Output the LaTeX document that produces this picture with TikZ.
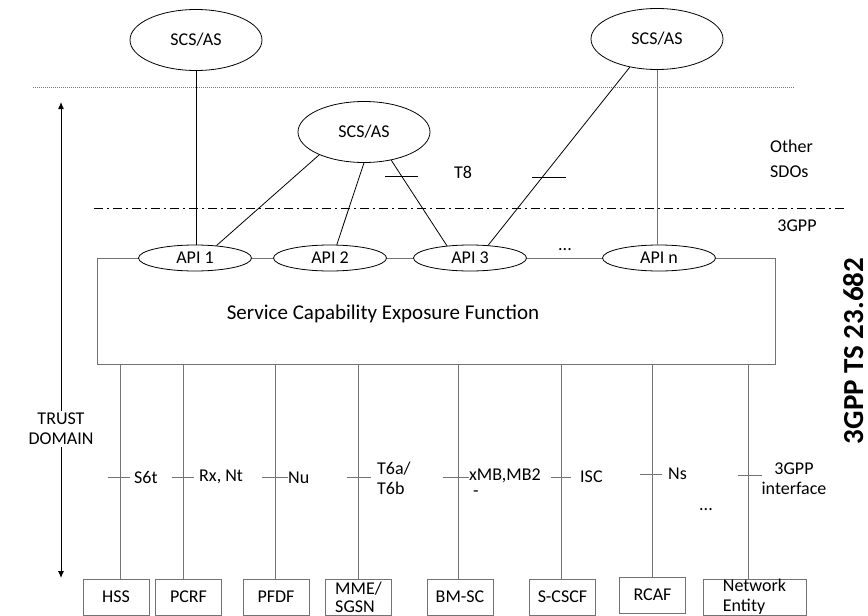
\documentclass[tikz,border=0pt]{standalone}
\usepackage{fontspec}
\setmainfont{Carlito}
\usetikzlibrary{shapes.geometric,arrows.meta}
\definecolor{lg}{gray}{0.45}
\tikzset{
  txt/.style={font=\fontsize{18}{20}\selectfont, inner sep=0pt},
  scs/.style={ellipse, draw, line width=0.8pt, minimum width=132pt, minimum height=61pt, inner sep=0pt, font=\fontsize{18}{20}\selectfont, fill=white},
  api/.style={ellipse, draw, line width=0.8pt, minimum width=113pt, minimum height=26pt, inner sep=0pt, font=\fontsize{18}{20}\selectfont, fill=white},
  nebox/.style={rectangle, draw=lg, line width=0.9pt, minimum width=66pt, minimum height=36pt, inner sep=0pt, font=\fontsize{18}{20}\selectfont, align=left},
  conn/.style={line width=0.8pt},
  gconn/.style={draw=lg, line width=1pt},
  tick/.style={line width=0.8pt},
}
\begin{document}
\begin{tikzpicture}[x=1pt,y=-1pt]
\useasboundingbox (0,0) rectangle (868,616);

% separator lines
\coordinate (dl1) at (33,87);
\coordinate (dl2) at (795,87);
\draw[lg, line width=1pt, dash pattern=on 1pt off 1pt] (dl1) -- (dl2);
\coordinate (dd1) at (94,208);
\coordinate (dd2) at (846,208);
\draw[line width=0.7pt, dash pattern=on 9pt off 4pt on 2pt off 4pt] (dd1) -- (dd2);

% SCEF box
\node[rectangle, draw=lg, line width=1pt, minimum width=678pt, minimum height=106pt, inner sep=0pt] (scef) at (436,311) {};
\node[txt, font=\fontsize{21}{24}\selectfont] (scefl) at (383,314) {Service Capability Exposure Function};

% API ellipses
\node[api] (api1) at (195,258) {API 1};
\node[api] (api2) at (330,258) {API 2};
\node[api] (api3) at (470,258) {API 3};
\node[api] (apin) at (659,258) {API n};
\node[txt] (adots) at (565,250) {...};

% SCS/AS
\node[scs] (sa1) at (196,40) {SCS/AS};
\node[scs] (sa2) at (364,132) {SCS/AS};
\node[scs] (sa3) at (657,39) {SCS/AS};

\draw[conn] (sa1.south) -- (sa1.south |- api1.north);
\draw[conn] (sa2.207) -- (api1.30);
\draw[conn] (sa2.south) -- (api2.63);
\draw[conn] (sa2.314) -- (api3.152);
\draw[conn] (sa3.226) -- (api3.35);
\draw[gconn] (sa3.south) -- (sa3.south |- apin.north);

% T8 ticks
\coordinate (t8a) at (385,176);
\coordinate (t8b) at (418,176);
\draw[tick] (t8a) -- (t8b);
\coordinate (t8c) at (532,177);
\coordinate (t8d) at (566,177);
\draw[tick] (t8c) -- (t8d);
\node[txt] (t8) at (463,172) {T8};

\node[txt, align=left, anchor=west, font=\fontsize{18}{25}\selectfont] (sdo) at (770,159) {Other\\SDOs};
\node[txt] (g3) at (797,226) {3GPP};

% title
\node[txt, rotate=90, anchor=base, font=\fontsize{29}{30}\selectfont\bfseries] (title) at (863,351) {3GPP TS 23.682};

% trust domain arrow
\node[txt, align=center, fill=white, inner sep=2pt] (trust) at (61,429) {TRUST\\DOMAIN};
\coordinate (tr1) at (61,102);
\coordinate (tr2) at (61,578);
\draw[line width=1pt, -{Latex[length=7pt,width=6pt]}] (trust.north) -- (tr1);
\draw[line width=1pt, -{Latex[length=7pt,width=6pt]}] (trust.south) -- (tr2);

% network entity boxes
\node[nebox] (hss) at (116,597) {HSS};
\node[nebox] (pcrf) at (188.5,597) {PCRF};
\node[nebox] (pfdf) at (276,597) {PFDF};
\node[nebox, font=\fontsize{18}{18}\selectfont] (mme) at (358.5,597) {MME/\\SGSN};
\node[nebox] (bmsc) at (460,597) {BM-SC};
\node[nebox] (scscf) at (562.5,597) {S-CSCF};
\node[nebox] (rcaf) at (652.5,595) {RCAF};
\node[nebox, minimum width=103pt, font=\fontsize{18}{20}\selectfont] (ne) at (754.5,597) {Network\\Entity};

\draw[gconn] (scef.south -| 120,0) -- (hss.north -| 120,0);
\draw[gconn] (scef.south -| 183,0) -- (pcrf.north -| 183,0);
\draw[gconn] (scef.south -| 275,0) -- (pfdf.north -| 275,0);
\draw[gconn] (scef.south -| 358,0) -- (mme.north -| 358,0);
\draw[gconn] (scef.south -| 458,0) -- (bmsc.north -| 458,0);
\draw[gconn] (scef.south -| 561,0) -- (scscf.north -| 561,0);
\draw[gconn] (scef.south -| 652,0) -- (rcaf.north -| 652,0);
\draw[gconn] (scef.south -| 748,0) -- (ne.north -| 748,0);

% interface ticks
\draw[gconn] (108,477) -- (130,477);
\draw[gconn] (172,477) -- (194,477);
\draw[gconn] (262,477) -- (288,477);
\draw[gconn] (347,477) -- (371,477);
\draw[gconn] (443,477) -- (469,477);
\draw[gconn] (551,477) -- (571,477);
\draw[gconn] (640,474) -- (662,474);
\draw[gconn] (738,475) -- (762,475);

\node[txt, anchor=west] (s6t) at (134,477) {S6t};
\node[txt, anchor=west] (rx) at (199,477) {Rx, Nt};
\node[txt, anchor=west] (nu) at (288,478) {Nu};
\node[txt, anchor=west, align=left] (t6) at (377,478) {T6a/\\T6b};
\node[txt, anchor=west] (xmb) at (469,476) {xMB,MB2};
\node[txt, anchor=west] (xmbd) at (473,494) {-};
\node[txt, anchor=west] (isc) at (580,477) {ISC};
\node[txt, anchor=west] (ns) at (668,474) {Ns};
\node[txt, align=center] (g3if) at (794,479) {3GPP\\interface};
\node[txt] (bdots) at (706,510) {...};

\end{tikzpicture}
\end{document}
